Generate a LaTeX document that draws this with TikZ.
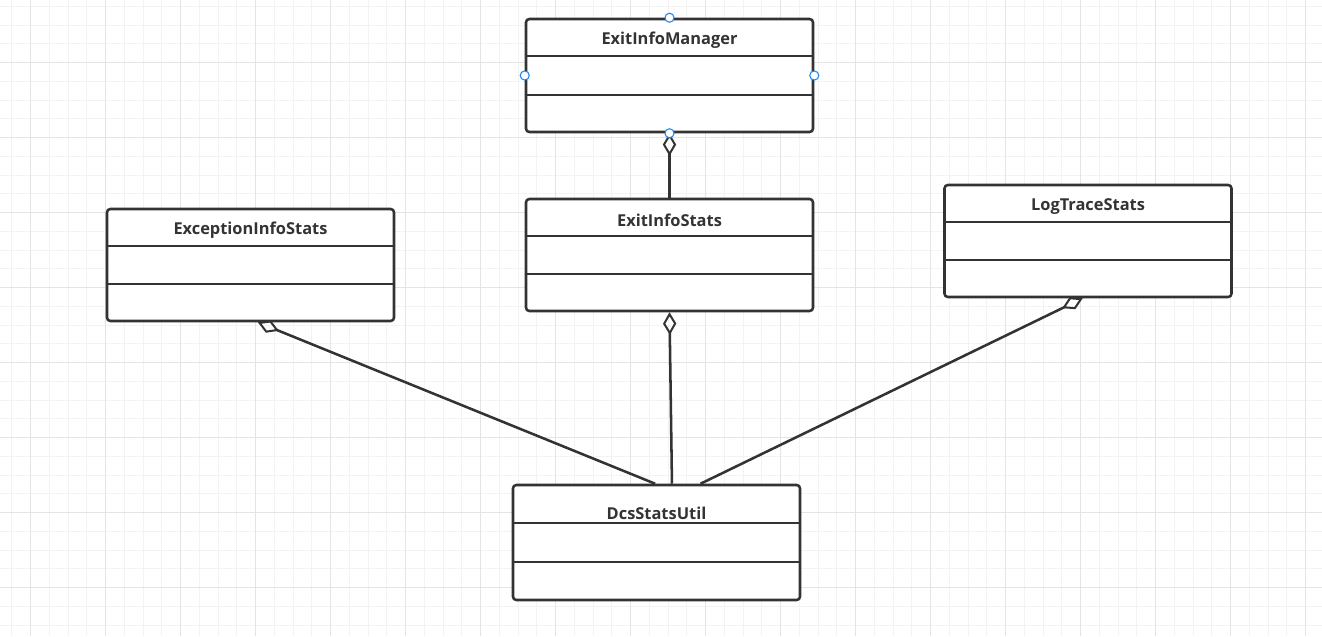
\documentclass[tikz,border=0pt]{standalone}
\usepackage{fontspec}
\setmainfont{Open Sans}
\usepackage{tikz}
\usetikzlibrary{arrows.meta,positioning,calc}
\definecolor{Ink}{HTML}{333333}
\definecolor{GridMinor}{HTML}{F3F3F3}
\definecolor{GridMajor}{HTML}{E4E4E4}
\definecolor{Handle}{HTML}{1E88F0}

\begin{document}
\begin{tikzpicture}[x=0.75pt,y=-0.75pt,
    classbox/.style={rectangle,draw=Ink,fill=white,line width=1.9pt,rounded corners=2.5pt,
        minimum width=215.25pt,minimum height=84.75pt,inner sep=0pt},
    classname/.style={minimum height=28.5pt,inner sep=0pt,text=Ink,
        font=\bfseries\fontsize{12.3}{14}\selectfont},
    divider/.style={draw=Ink,line width=1.6pt},
    aggr/.style={draw=Ink,line width=1.9pt,-{Diamond[open,length=17pt,width=10pt,line width=1.5pt]}},
    handle/.style={circle,draw=Handle,fill=white,line width=0.8pt,minimum size=6.8pt,inner sep=0pt},
    minorgrid/.style={draw=GridMinor,line width=0.75pt},
    majorgrid/.style={draw=GridMajor,line width=0.75pt},
]
\useasboundingbox[fill=white] (0,0) rectangle (1322,636);
% grid
\foreach \i in {0,...,70} \draw[minorgrid] ({11.95+18.75*\i},0) -- ++(0,636);
\foreach \i in {0,...,33} \draw[minorgrid] (0,{6.45+18.75*\i}) -- ++(1322,0);
\foreach \i in {0,...,17} \draw[majorgrid] ({30.7+75*\i},0) -- ++(0,636);
\foreach \i in {0,...,7} \draw[majorgrid] (0,{62.7+75*\i}) -- ++(1322,0);

% classes
\node[classbox] (manager) at (669.5,75.5) {};
\node[classname,below=2.5pt of manager.north] (managername) {ExitInfoManager};
\node[classbox,minimum height=84pt] (exitstats) at (669.5,255) {};
\node[classname,below=2.5pt of exitstats.north] (exitstatsname) {ExitInfoStats};
\node[classbox,minimum height=84pt] (exception) at (250.5,265) {};
\node[classname,below=2.5pt of exception.north] (exceptionname) {ExceptionInfoStats};
\node[classbox,minimum height=84pt] (logtrace) at (1088,241) {};
\node[classname,below=2.5pt of logtrace.north] (logtracename) {LogTraceStats};
\node[classbox,minimum height=86.25pt] (util) at (656.5,542.5) {};
\node[classname,below=7.5pt of util.north] (utilname) {DcsStatsUtil};

\foreach \c in {manager,exitstats,exception,logtrace,util} {
  \draw[divider] ($(\c.north west)!1/3!(\c.south west)$) -- ($(\c.north east)!1/3!(\c.south east)$);
  \draw[divider] ($(\c.north west)!2/3!(\c.south west)$) -- ($(\c.north east)!2/3!(\c.south east)$);
}

% aggregations
\draw[aggr] (exitstats.north) -- (manager.south);
\draw[aggr] ([xshift=11.6pt]util.north) -- (exitstats.south);
\draw[aggr] ([xshift=-1pt]util.north) -- ([xshift=5.5pt]exception.south);
\draw[aggr] ([xshift=33pt]util.north) -- ([xshift=-4pt]logtrace.south);

% selection handles
\node[handle] (htop) at (manager.north) {};
\node[handle] (hleft) at (manager.west) {};
\node[handle] (hright) at (manager.east) {};
\node[handle] (hbottom) at (manager.south) {};
\end{tikzpicture}
\end{document}
